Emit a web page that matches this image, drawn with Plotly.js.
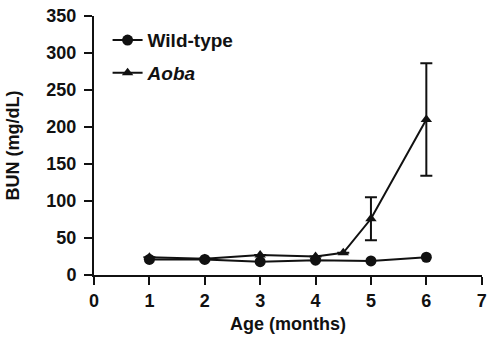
<!DOCTYPE html>
<html>
<head>
<meta charset="utf-8">
<script src="https://cdn.plot.ly/plotly-3.0.1.min.js"></script>
<style>html,body{margin:0;padding:0;background:#fff;}#chart{width:487px;height:339px;}</style>
</head>
<body>
<div id="chart"></div>
<script>
var wtAge = [1, 2, 3, 4, 5, 6];
var wtBUN = [21, 21, 18, 20, 19, 24];
var aobaAge = [1, 2, 3, 4, 4.5, 5, 6];
var aobaBUN = [24, 22, 27, 25, 30, 76, 210];
var aobaErr = [null, null, null, null, null, 29, 76];
var xTicks = [0, 1, 2, 3, 4, 5, 6, 7];
var yTicks = [0, 50, 100, 150, 200, 250, 300, 350];

var FONT = {family: 'Liberation Sans, Arial, sans-serif', size: 18, color: '#111', weight: 'bold'};
var LFONT = {family: 'Liberation Sans, Arial, sans-serif', size: 19, color: '#111', weight: 'bold'};

var traces = [
  {
    x: wtAge, y: wtBUN, type: 'scatter', mode: 'lines+markers',
    name: 'Wild-type', legendgroup: 'a',
    line: {color: '#111', width: 2},
    marker: {symbol: 'circle', size: 11, color: '#111'}
  },
  {
    x: aobaAge, y: aobaBUN, type: 'scatter', mode: 'lines+markers',
    name: '<i>Aoba</i>', legendgroup: 'b',
    line: {color: '#111', width: 2},
    marker: {symbol: 'triangle-up', size: 10, color: '#111'},
    error_y: {type: 'data', array: aobaErr, visible: true, color: '#111', thickness: 2, width: 6}
  }
];

var layout = {
  width: 487, height: 339,
  margin: {l: 94, r: 5, t: 16, b: 64},
  paper_bgcolor: '#fff', plot_bgcolor: '#fff',
  font: FONT,
  showlegend: true,
  legend: {x: 0.035, y: 0.98, xanchor: 'left', yanchor: 'top', font: LFONT,
           traceorder: 'grouped', tracegroupgap: 5, bgcolor: 'rgba(0,0,0,0)'},
  xaxis: {
    range: [0, 7.005], tickvals: xTicks, ticktext: xTicks.map(String),
    showgrid: false, zeroline: false, showline: true, linecolor: '#111', linewidth: 2,
    ticks: 'outside', ticklen: 8, tickwidth: 2, tickcolor: '#111',
    tickfont: FONT,
    title: {text: 'Age (months)', font: FONT, standoff: 8}
  },
  yaxis: {
    range: [0, 350], tickvals: yTicks, ticktext: yTicks.map(String),
    showgrid: false, zeroline: false, showline: true, linecolor: '#111', linewidth: 2,
    ticks: 'outside', ticklen: 8, tickwidth: 2, tickcolor: '#111',
    tickfont: FONT, ticklabelstandoff: 4,
    title: {text: 'BUN (mg/dL)', font: FONT, standoff: 22}
  }
};

Plotly.newPlot('chart', traces, layout, {staticPlot: true, displayModeBar: false});
</script>
</body>
</html>
